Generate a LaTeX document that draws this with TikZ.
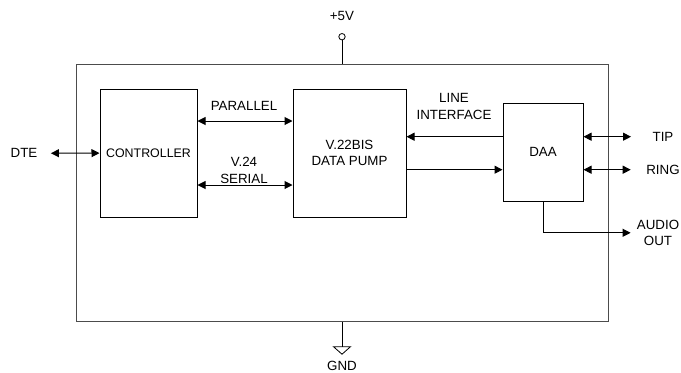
\documentclass[tikz,border=0pt]{standalone}
\usepackage{fontspec}
\setmainfont{Liberation Sans}
\usetikzlibrary{arrows.meta}
\begin{document}
\begin{tikzpicture}[x=0.75pt, y=-0.75pt,
  blk/.style={draw, line width=0.75pt, inner sep=0pt, align=center, font=\fontsize{10}{12.5}\selectfont},
  lbl/.style={inner sep=0pt, align=center, font=\fontsize{10}{12.5}\selectfont},
  sig/.style={line width=0.75pt, -{Triangle[length=6pt,width=6pt]}},
  bus/.style={line width=0.75pt, {Triangle[length=6pt,width=6pt]}-{Triangle[length=6pt,width=6pt]}}]
  \useasboundingbox (0,0) rectangle (681,372);

  % Chip outline
  \node[draw=black!70, line width=0.75pt, minimum width=399pt, minimum height=192.75pt] (chip) at (342,193.2) {};

  % Blocks inside the chip
  \node[blk, minimum width=72.75pt, minimum height=96pt, font=\fontsize{9.3}{11}\selectfont] (ctrl) at (148.5,153) {CONTROLLER};
  \node[blk, minimum width=84.75pt, minimum height=96pt] (pump) at (349.5,153) {V.22BIS\\DATA PUMP};
  \node[blk, minimum width=60pt, minimum height=73.5pt] (daa) at (543,152) {DAA};

  % Labels
  \node[lbl] (dte) at (24,153.3) {DTE};
  \node[lbl] (par) at (244,106) {PARALLEL};
  \node[lbl] (ser) at (244,170.7) {V.24\\SERIAL};
  \node[lbl] (line) at (454,106.7) {LINE\\INTERFACE};
  \node[lbl] (tip) at (663,136.7) {TIP};
  \node[lbl] (ring) at (663,169.7) {RING};
  \node[lbl] (audio) at (658,232.8) {AUDIO\\OUT};

  % Left side: DTE and controller buses
  \draw[bus, shorten <=10pt] (dte) -- (ctrl);
  \draw[bus] ([yshift=24pt]ctrl.east) -- ([yshift=24pt]pump.west);
  \draw[bus] ([yshift=-24pt]ctrl.east) -- ([yshift=-24pt]pump.west);

  % Line interface
  \draw[sig] (daa.west |- tip) -- (pump.east |- tip);
  \draw[sig] (pump.east |- ring) -- (daa.west |- ring);

  % Right side: phone line and audio
  \draw[bus, shorten >=16pt] (daa.east |- tip) -- (tip);
  \draw[bus, shorten >=11.5pt] (daa.east |- ring) -- (ring);
  \draw[sig, shorten >=4.5pt] (daa.south) |- (audio.west);

  % Supply and ground
  \node[circle, draw, line width=0.6pt, inner sep=0pt, minimum size=4.8pt] (vcc) at (342,36.7) {};
  \node[lbl] (vcclbl) at (342,16) {+5V};
  \draw[line width=0.75pt] (vcc) -- (chip.north);
  \coordinate (gnd) at (342,346.7);
  \draw[line width=0.75pt] (chip.south) -- (gnd);
  \draw[line width=0.6pt] (gnd) ++(-8.5,0) -- ++(17,0) -- ++(-8.5,7.5) -- cycle;
  \node[lbl] (gndlbl) at (342,365.5) {GND};
\end{tikzpicture}
\end{document}
